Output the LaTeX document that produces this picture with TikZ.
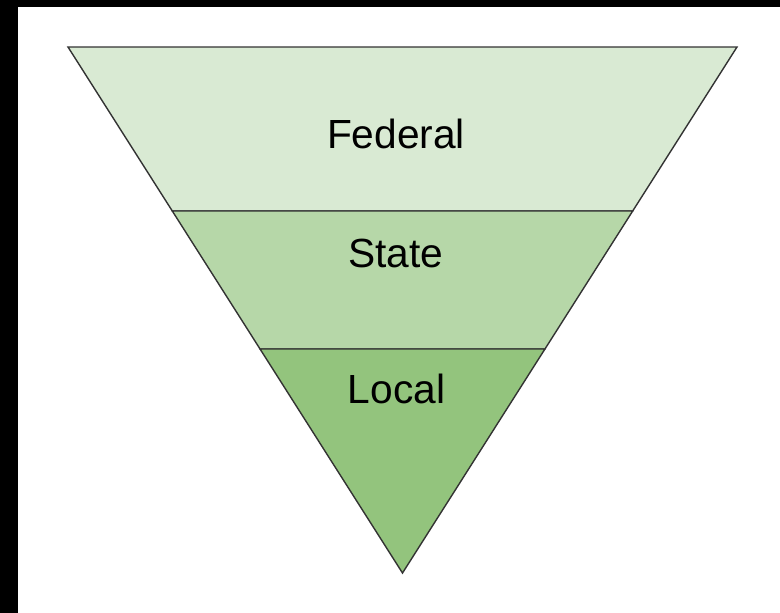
\documentclass[tikz,border=0pt]{standalone}
\usepackage{fontspec}
\setmainfont{Liberation Sans}
\usetikzlibrary{calc}
\definecolor{gA}{HTML}{D9EAD3}
\definecolor{gB}{HTML}{B6D7A8}
\definecolor{gC}{HTML}{93C47D}
\definecolor{edge}{HTML}{333333}
\tikzset{
  tier/.style={draw=edge, line width=1.4pt, line join=miter},
  lbl/.style={font=\fontsize{40.7}{48}\selectfont, anchor=base, inner sep=0pt}
}
\begin{document}
\begin{tikzpicture}[x=1pt,y=-1pt]
\useasboundingbox (0,0) rectangle (780,613);
\fill[white] (0,0) rectangle (780,613);
\fill[black] (0,0) rectangle (18,613);
\fill[black] (0,0) rectangle (780,7);
\coordinate (TL) at (68,47);
\coordinate (TR) at (737,47);
\coordinate (A) at (402.5,573);
\coordinate (L1) at ($(TL)!0.3118!(A)$);
\coordinate (R1) at ($(TR)!0.3118!(A)$);
\coordinate (L2) at ($(TL)!0.5741!(A)$);
\coordinate (R2) at ($(TR)!0.5741!(A)$);
\filldraw[tier, fill=gA] (TL) -- (TR) -- (R1) -- (L1) -- cycle;
\filldraw[tier, fill=gB] (L1) -- (R1) -- (R2) -- (L2) -- cycle;
\filldraw[tier, fill=gC] (L2) -- (R2) -- (A) -- cycle;
\node[lbl] (fed) at (396,148) {Federal};
\node[lbl] (sta) at (396,267) {State};
\node[lbl] (loc) at (396.5,403) {Local};
\end{tikzpicture}
\end{document}
